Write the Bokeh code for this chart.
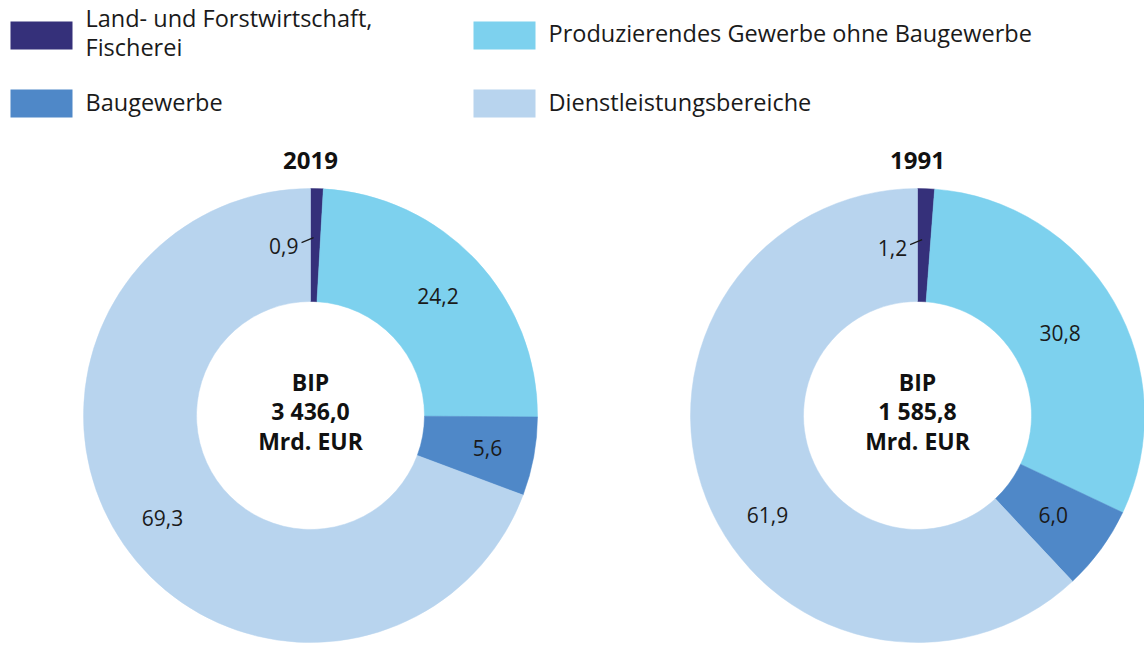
from bokeh.plotting import figure
from bokeh.models import Range1d, ColumnDataSource
from bokeh.embed import file_html
from bokeh.resources import INLINE
from bokeh.core.properties import value
import numpy as np

# ---------------- data ----------------
categories = ["Land- und Forstwirtschaft, Fischerei",
              "Produzierendes Gewerbe ohne Baugewerbe",
              "Baugewerbe",
              "Dienstleistungsbereiche"]
legend_lines = [["Land- und Forstwirtschaft,", "Fischerei"],
                ["Produzierendes Gewerbe ohne Baugewerbe"],
                ["Baugewerbe"],
                ["Dienstleistungsbereiche"]]
years = ["2019", "1991"]
shares_2019 = [0.9, 24.2, 5.6, 69.3]
shares_1991 = [1.2, 30.8, 6.0, 61.9]
labels_2019 = ["0,9", "24,2", "5,6", "69,3"]
labels_1991 = ["1,2", "30,8", "6,0", "61,9"]
bip_values = ["3 436,0", "1 585,8"]
colors = ["#35307a", "#7dd1ee", "#4f88c8", "#b8d4ee"]

# ---------------- layout ----------------
W, H = 1144, 647
FONT = "Open Sans"

def Y(py):
    return H - py

p = figure(width=W, height=H, output_backend="svg", toolbar_location=None,
           x_range=Range1d(0, W), y_range=Range1d(0, H),
           min_border=0, outline_line_color=None)
p.axis.visible = False
p.grid.visible = False
p.background_fill_color = "white"

centers = [(310, 415), (917, 415)]
r_in, r_out = 114, 227
series = [shares_2019, shares_1991]
series_labels = [labels_2019, labels_1991]
angle_shift = [[0, 0, 0, 0], [0, 0, 0, -12]]
label_r = [[178, 175, 180, 180], [176, 165, 168, 180]]

for k, (cx, cy) in enumerate(centers):
    vals = np.array(series[k], dtype=float)
    total = vals.sum()
    cum = np.concatenate([[0], np.cumsum(vals)])
    starts = np.pi / 2 - 2 * np.pi * cum[:-1] / total
    ends = np.pi / 2 - 2 * np.pi * cum[1:] / total
    src = ColumnDataSource(dict(x=[cx] * 4, y=[Y(cy)] * 4, s=starts, e=ends, c=colors))
    p.annular_wedge(x="x", y="y", inner_radius=r_in, outer_radius=r_out,
                    start_angle="s", end_angle="e", direction="clock",
                    fill_color="c", line_color="c", line_width=0.5, source=src)

    # value labels
    mids = 2 * np.pi * (cum[:-1] + vals / 2) / total
    for i, lab in enumerate(series_labels[k]):
        th = mids[i] + np.deg2rad(angle_shift[k][i])
        r = label_r[k][i]
        lx = cx + r * np.sin(th)
        ly = cy - r * np.cos(th)
        if i == 0:
            # small slice: leader line and label left of it
            x0, y0 = lx - 2, ly
            x1, y1 = lx - 14, ly + 5
            p.line([x0, x1], [Y(y0), Y(y1)], line_color="#1a1a1a", line_width=1.2)
            p.text(x=[x1 - 3], y=[Y(y1 + 3)], text=[lab], text_align="right",
                   text_baseline="middle", text_font=value(FONT),
                   text_font_size="21px", text_color="#1a1a1a")
        else:
            p.text(x=[lx], y=[Y(ly)], text=[lab], text_align="center",
                   text_baseline="middle", text_font=value(FONT),
                   text_font_size="21px", text_color="#1a1a1a")

    # title
    p.text(x=[cx], y=[Y(160)], text=[years[k]], text_align="center",
           text_baseline="middle", text_font=value(FONT), text_font_style="bold",
           text_font_size="24px", text_color="#111111")
    # centre text
    for j, t in enumerate(["BIP", bip_values[k], "Mrd. EUR"]):
        p.text(x=[cx], y=[Y(381 + 29.5 * j)], text=[t], text_align="center",
               text_baseline="middle", text_font=value(FONT), text_font_style="bold",
               text_font_size="23px", text_color="#111111")

# ---------------- legend ----------------
leg_x = [10, 473, 10, 473]
leg_y = [35, 35, 103, 103]
leg_base = [[17, 46], [32], [101], [101]]
for i in range(4):
    p.rect(x=[leg_x[i] + 31], y=[Y(leg_y[i])], width=62, height=28,
           fill_color=colors[i], line_color=None)
    for j, t in enumerate(legend_lines[i]):
        p.text(x=[leg_x[i] + 75], y=[Y(leg_base[i][j])], text=[t], text_align="left",
               text_baseline="middle", text_font=value(FONT),
               text_font_size="23.5px", text_color="#1a1a1a")

open("out.html", "w").write(file_html(p, INLINE))
